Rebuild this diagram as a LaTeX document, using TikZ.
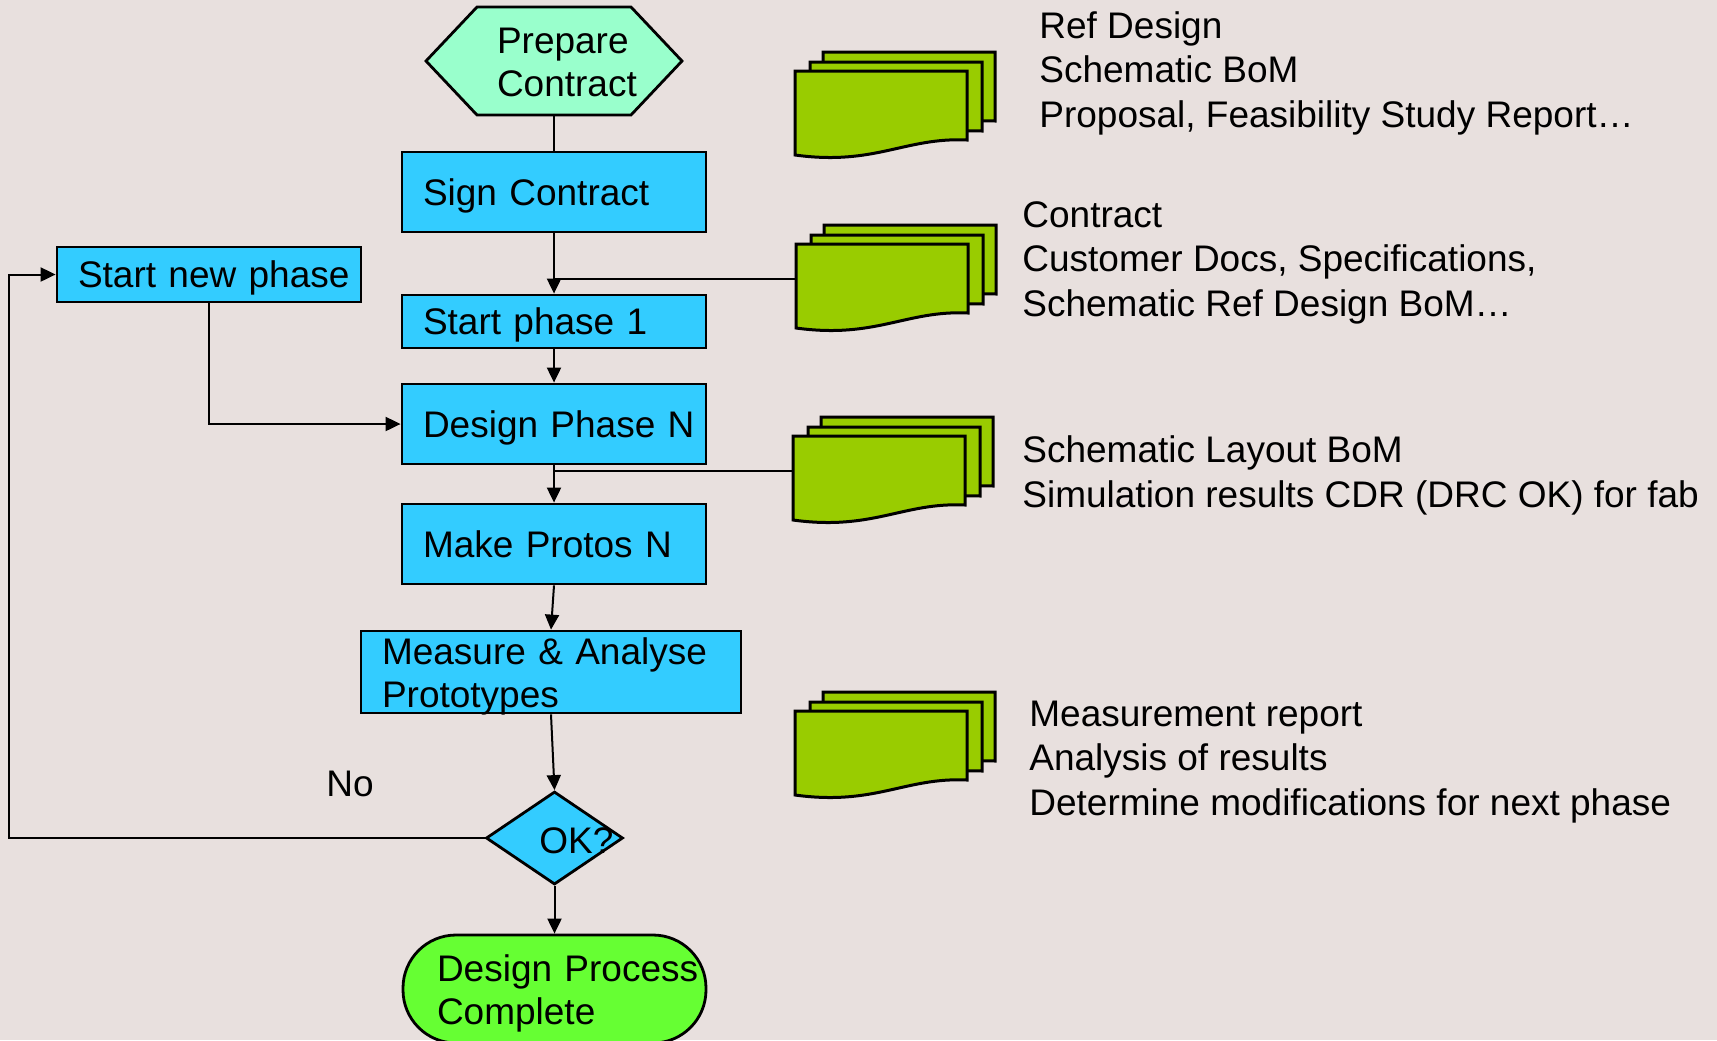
\documentclass[tikz,border=0pt]{standalone}
\usepackage{fontspec}
\setmainfont{Liberation Sans}
\usetikzlibrary{arrows.meta,shapes.geometric,calc,backgrounds}

\definecolor{pagebg}{RGB}{232,224,222}
\definecolor{stepblue}{RGB}{51,204,255}
\definecolor{mint}{RGB}{153,255,204}
\definecolor{donegreen}{RGB}{102,255,51}
\definecolor{docgreen}{RGB}{153,204,0}

\tikzset{
  stepbox/.style={draw, line width=1.4pt, fill=stepblue, rectangle, inner sep=0pt, align=left},
  oneline/.style={text height=13.5pt, text depth=0.5pt},
  twoline/.style={text height=13.5pt, text depth=21.5pt},
  conn/.style={line width=1pt},
  arr/.style={conn, -{Triangle[length=7.5pt,width=7pt]}},
  sheet/.style={draw, line width=1.5pt, fill=docgreen, line join=miter},
  % notes are placed by the baseline of their last line
  note/.style={anchor=base west, align=left, inner sep=0pt,
               font=\fontsize{18.5pt}{22.25pt}\selectfont},
  docstack/.pic={
    \foreach \dx/\dy in {28/-19, 15/-9, 0/0}
      \draw[sheet, shift={(\dx,\dy)}] (0,0) -- (172,0) -- (172,69)
        .. controls (110,66) and (80,95) .. (0,84) -- cycle;
    \coordinate (-w) at (0,35);
  }
}

\begin{document}
\begin{tikzpicture}[x=0.5pt, y=-0.5pt, font=\fontsize{18.5pt}{21.5pt}\selectfont]
  \begin{scope}[on background layer]
    \fill[pagebg] (0,0) rectangle (1717,1040);
  \end{scope}
  \useasboundingbox (0,0) rectangle (1717,1040);

  % main flow
  \node[inner sep=0pt, minimum width=128pt, minimum height=54pt, text width=57pt,
        align=left, twoline] (prep) at (554,61) {Prepare\\\mbox{Contract}};
  \begin{scope}[on background layer]
    \draw[line width=1.4pt, fill=mint, line join=miter]
      ($(prep.center)+(-128,0)$) -- ($(prep.center)+(-77,-54)$) --
      ($(prep.center)+(77,-54)$) -- ($(prep.center)+(128,0)$) --
      ($(prep.center)+(77,54)$) -- ($(prep.center)+(-77,54)$) -- cycle;
  \end{scope}

  \node[stepbox, oneline, minimum width=152pt, minimum height=40pt, text width=131pt]
    (sign) at (554,192) {Sign Contract};
  \node[stepbox, oneline, minimum width=152pt, minimum height=27.5pt, text width=131pt]
    (newphase) at (209,274.5) {\mbox{Start new phase}};
  \node[stepbox, oneline, minimum width=152pt, minimum height=26.5pt, text width=131pt]
    (start1) at (554,321.5) {Start phase 1};
  \node[stepbox, oneline, minimum width=152pt, minimum height=40pt, text width=131pt]
    (design) at (554,424) {\mbox{Design Phase N}};
  \node[stepbox, oneline, minimum width=152pt, minimum height=40pt, text width=131pt]
    (protos) at (554,544) {Make Protos N};
  \node[stepbox, twoline, minimum width=190pt, minimum height=41pt, text width=169pt]
    (measure) at (551,672) {Measure \& Analyse\\Prototypes};

  \node[draw, line width=1.4pt, fill=stepblue, diamond, inner sep=0pt,
        minimum width=68.5pt, minimum height=46.5pt] (ok) at (554.5,838) {};
  \node[anchor=base west, inner sep=0pt] (oktext) at ($(ok.center)+(-15.5,15)$) {OK?};

  \node[draw, line width=1.4pt, fill=donegreen, rectangle, rounded corners=26.5pt,
        inner sep=0pt, minimum width=151.5pt, minimum height=54pt, text width=117.5pt,
        align=left, twoline] (done) at (554.5,989) {\mbox{Design Process}\\Complete};

  \node[anchor=base west, inner sep=0pt] (nolabel) at (326,796) {No};

  % document stacks
  \pic (d1) at (795,71) {docstack};
  \pic (d2) at (796,244) {docstack};
  \pic (d3) at (793,436) {docstack};
  \pic (d4) at (795,711) {docstack};

  % notes beside the documents
  \node[note] (n1) at (1039,127) {Ref Design\\Schematic BoM\\Proposal, Feasibility Study Report…};
  \node[note] (n2) at (1022,316) {Contract\\Customer Docs, Specifications,\\Schematic Ref Design BoM…};
  \node[note] (n3) at (1022,507) {Schematic Layout BoM\\Simulation results CDR (DRC OK) for fab};
  \node[note] (n4) at (1029,815) {Measurement report\\Analysis of results\\Determine modifications for next phase};

  % connectors
  \draw[conn] (prep.south) -- (sign.north);
  \draw[arr] (sign.south) -- (start1.north);
  \draw[conn] (d2-w) -- (d2-w -| sign.south);
  \draw[arr] (start1.south) -- (design.north);
  \draw[arr] (newphase.south) |- (design.west);
  \draw[arr] (design.south) -- (protos.north);
  \draw[conn] (d3-w) -- (d3-w -| design.south);
  \draw[arr] (protos.south) -- (measure.north);
  \draw[arr] (measure.south) -- (ok.north);
  \draw[arr] (ok.south) -- (done.north);
  \coordinate (loopx) at (9,838);
  \draw[arr] (ok.west) -- (loopx) |- (newphase.west);
\end{tikzpicture}
\end{document}
